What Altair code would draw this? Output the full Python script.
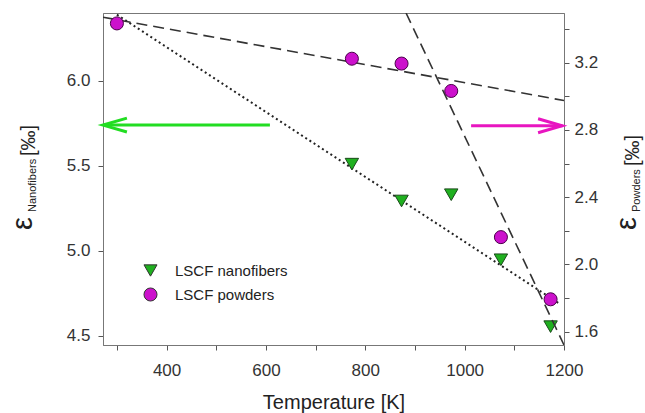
import altair as alt
import pandas as pd

# ---------------- data ----------------
series_names = ["LSCF nanofibers", "LSCF powders"]

nano_T = [773, 873, 973, 1073, 1173]
nano_v = [5.51, 5.293, 5.33, 4.947, 4.553]

powd_T = [300, 773, 873, 973, 1073, 1173]
powd_v = [3.434, 3.224, 3.195, 3.032, 2.162, 1.792]

# fit lines (endpoints)
dotted_T = [300, 1190]          # nanofibers fit (left axis)
dotted_v = [6.39, 4.69]
dash1_T = [272, 1200]           # powders, low-T fit (right axis)
dash1_v = [3.471, 2.975]
dash2_T = [882, 1200]           # powders, high-T fit (right axis)
dash2_v = [3.496, 1.52]

# arrows (axis pointers)
green_arrow_T = [272, 608]
green_arrow_v = 5.74
green_head_T = 296
mag_arrow_T = [1013, 1197]
mag_arrow_v = 2.825
mag_head_T = 1172

x_ticks = [300, 400, 500, 600, 700, 800, 900, 1000, 1100, 1200]
left_ticks = [4.5, 5.0, 5.5, 6.0]
right_ticks = [1.6, 1.8, 2.0, 2.2, 2.4, 2.6, 2.8, 3.0, 3.2, 3.4]

x_domain = [272, 1200]
left_domain = [4.445, 6.40]
right_domain = [1.52, 3.496]

GREEN = "#1FB01F"
MAGENTA = "#CC11CC"
ARROW_GREEN = "#22DD22"
ARROW_MAGENTA = "#E815C0"
FONT = "Liberation Sans"

# ---------------- tables ----------------
nano = pd.DataFrame({"T": nano_T, "v": nano_v, "series": series_names[0]})
powd = pd.DataFrame({"T": powd_T, "v": powd_v, "series": series_names[1]})
dotted = pd.DataFrame({"T": dotted_T, "v": dotted_v})
dash1 = pd.DataFrame({"T": dash1_T, "v": dash1_v})
dash2 = pd.DataFrame({"T": dash2_T, "v": dash2_v})
garrow = pd.DataFrame({"T": [green_arrow_T[0]], "T2": [green_arrow_T[1]], "v": [green_arrow_v]})
ghead = pd.DataFrame({"T": [green_head_T], "v": [green_arrow_v]})
marrow = pd.DataFrame({"T": [mag_arrow_T[0]], "T2": [mag_arrow_T[1]], "v": [mag_arrow_v]})
mhead = pd.DataFrame({"T": [mag_head_T], "v": [mag_arrow_v]})
one = pd.DataFrame({"a": [0]})

# ---------------- encodings ----------------
X = alt.X(
    "T:Q",
    scale=alt.Scale(domain=x_domain, nice=False, zero=False),
    axis=alt.Axis(
        values=x_ticks,
        labelExpr="datum.value % 200 == 0 ? format(datum.value, 'd') : ''",
        title="Temperature [K]",
        titleFontSize=20,
        titleFontWeight="normal",
        titlePadding=14,
        labelPadding=12,
        grid=False,
    ),
)
YL = alt.Y(
    "v:Q",
    scale=alt.Scale(domain=left_domain, nice=False, zero=False),
    axis=alt.Axis(values=left_ticks, format=".1f", title=None, orient="left",
                  grid=False, labelPadding=8),
)
YR = alt.Y(
    "v:Q",
    scale=alt.Scale(domain=right_domain, nice=False, zero=False),
    axis=alt.Axis(values=right_ticks, orient="right", title=None, grid=False,
                  labelExpr="round(datum.value*10) % 4 == 0 ? format(datum.value, '.1f') : ''",
                  labelPadding=5),
)
COLOR = alt.Color(
    "series:N",
    scale=alt.Scale(domain=series_names, range=[GREEN, MAGENTA]),
    legend=alt.Legend(title=None, orient="none", legendX=40, legendY=250,
                      labelFontSize=15, labelColor="#222", rowPadding=6,
                      symbolSize=170, symbolStrokeColor="#333", symbolStrokeWidth=1,
                      labelOffset=17, padding=0),
)
SHAPE = alt.Shape(
    "series:N",
    scale=alt.Scale(domain=series_names, range=["triangle-down", "circle"]),
    legend=alt.Legend(title=None, orient="none", legendX=40, legendY=250),
)

# ---------------- left group ----------------
dotted_line = alt.Chart(dotted).mark_line(
    color="#222", strokeDash=[2, 3], strokeWidth=2, clip=True
).encode(x=X, y=YL)
garrow_rule = alt.Chart(garrow).mark_rule(color=ARROW_GREEN, strokeWidth=3).encode(
    x=X, x2="T2:Q", y=YL)
ghead_pt = alt.Chart(ghead).mark_point(
    shape="M1,-0.58L-1,0L1,0.58", filled=False, size=576, strokeWidth=3,
    color=ARROW_GREEN, opacity=1, strokeJoin="miter"
).encode(x=X, y=YL)
nano_pts = alt.Chart(nano).mark_point(
    filled=True, size=180, stroke="#1a4a1a", strokeWidth=1, opacity=1
).encode(x=X, y=YL, color=COLOR, shape=SHAPE)


def txt(s, x, y, size):
    return alt.Chart(one).mark_text(
        text=s, angle=270, align="left", baseline="middle", font=FONT,
        fontSize=size, color="#222"
    ).encode(x=alt.value(x), y=alt.value(y))


left_title = alt.layer(
    txt("ε", -80, 217, 29),
    txt("Nanofibers", -70, 199, 11),
    txt("[‰]", -74, 143, 20),
)
right_title = alt.layer(
    txt("ε", 524, 217, 29),
    txt("Powders", 534, 199, 11),
    txt("[‰]", 530, 153, 20),
)

left = alt.layer(dotted_line, garrow_rule, ghead_pt, nano_pts, left_title, right_title)

# ---------------- right group ----------------
dash1_line = alt.Chart(dash1).mark_line(
    color="#333", strokeDash=[11, 6], strokeWidth=1.6, clip=True
).encode(x=X, y=YR)
dash2_line = alt.Chart(dash2).mark_line(
    color="#333", strokeDash=[11, 6], strokeWidth=1.6, clip=True
).encode(x=X, y=YR)
marrow_rule = alt.Chart(marrow).mark_rule(color=ARROW_MAGENTA, strokeWidth=3).encode(
    x=X, x2="T2:Q", y=YR)
mhead_pt = alt.Chart(mhead).mark_point(
    shape="M-1,-0.58L1,0L-1,0.58", filled=False, size=576, strokeWidth=3,
    color=ARROW_MAGENTA, opacity=1, strokeJoin="miter"
).encode(x=X, y=YR)
powd_pts = alt.Chart(powd).mark_point(
    filled=True, size=170, stroke="#4a004a", strokeWidth=1, opacity=1
).encode(x=X, y=YR, color=COLOR, shape=SHAPE)

right = alt.layer(dash1_line, dash2_line, marrow_rule, mhead_pt, powd_pts)

chart = (
    alt.layer(left, right)
    .resolve_scale(y="independent")
    .properties(
        width=461, height=332,
        autosize=alt.AutoSizeParams(type="none"),
        padding={"left": 103, "top": 13, "right": 81, "bottom": 68},
        background="white",
    )
    .configure_view(stroke="#777", strokeWidth=1)
    .configure_axis(
        labelFont=FONT, titleFont=FONT, labelFontSize=17, labelColor="#333",
        titleColor="#222", domainColor="#777", tickColor="#555", tickSize=5,
        domainWidth=1, tickWidth=1, labelFlush=False,
    )
    .configure_legend(labelFont=FONT)
)

chart.save("out.html", embed_options={"renderer": "svg", "actions": False})
